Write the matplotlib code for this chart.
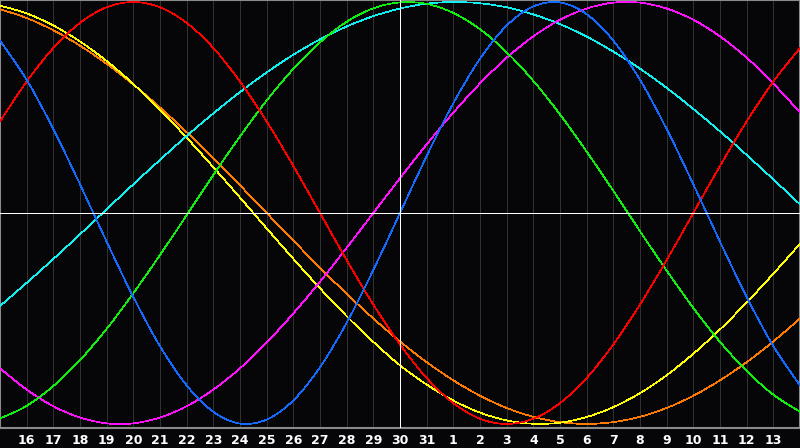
import matplotlib
matplotlib.use("Agg")
import matplotlib.pyplot as plt
from matplotlib.path import Path
from matplotlib.patches import PathPatch

# Day labels along the x axis (day index 0 = the 15th)
days = [15, 16, 17, 18, 19, 20, 21, 22, 23, 24, 25, 26, 27, 28, 29, 30, 31,
        1, 2, 3, 4, 5, 6, 7, 8, 9, 10, 11, 12, 13, 14]

# Cycle values (percent), one per day
blue = [81.7, 63.1, 39.8, 13.6, -13.6, -39.8, -63.1, -81.7, -94.2, -99.8, -97.9, -88.8, -73.1, -52.0, -27.0, 0.0,
        27.0, 52.0, 73.1, 88.8, 97.9, 99.8, 94.2, 81.7, 63.1, 39.8, 13.6, -13.6, -39.8, -63.1, -81.7]
red = [43.4, 62.3, 78.2, 90.1, 97.5, 100.0, 97.5, 90.1, 78.2, 62.3, 43.4, 22.3, 0.0, -22.3, -43.4, -62.3,
       -78.2, -90.1, -97.5, -100.0, -97.5, -90.1, -78.2, -62.3, -43.4, -22.3, 0.0, 22.3, 43.4, 62.3, 78.2]
green = [-97.4, -91.4, -82.0, -69.7, -54.9, -38.0, -19.9, -1.0, 18.0, 36.3, 53.3, 68.3, 80.9, 90.6, 97.0, 99.8,
         99.1, 94.8, 87.1, 76.2, 62.6, 46.7, 29.1, 10.5, -8.6, -27.3, -45.0, -61.1, -74.9, -86.1, -94.2]
magenta = [-73.6, -83.7, -91.6, -96.9, -99.7, -99.7, -96.9, -91.6, -83.7, -73.6, -61.4, -47.6, -32.5, -16.5, 0.0, 16.5,
           32.5, 47.6, 61.4, 73.6, 83.7, 91.6, 96.9, 99.7, 99.7, 96.9, 91.6, 83.7, 73.6, 61.4, 47.6]
cyan = [-44.1, -33.1, -21.8, -10.1, 1.8, 13.6, 25.2, 36.5, 47.2, 57.3, 66.6, 75.0, 82.3, 88.4, 93.3, 96.9,
        99.2, 100.0, 99.4, 97.5, 94.1, 89.5, 83.6, 76.5, 68.4, 59.3, 49.3, 38.7, 27.5, 15.9, 4.1]
yellow = [98.3, 94.6, 88.9, 81.3, 72.0, 61.1, 48.9, 35.7, 21.7, 7.3, -7.3, -21.7, -35.7, -48.9, -61.1, -72.2,
          -81.3, -88.9, -94.6, -98.3, -99.9, -99.4, -96.7, -92.0, -85.4, -76.9, -66.7, -55.2, -42.4, -28.8, -14.6]
orange = [96.6, 92.4, 86.6, 79.3, 70.7, 60.9, 50.0, 38.3, 25.9, 13.1, 0.0, -13.1, -25.9, -38.3, -50.0, -60.9,
          -70.7, -79.3, -86.6, -92.4, -96.6, -99.1, -100.0, -99.1, -96.6, -92.4, -86.6, -79.3, -70.7, -60.9, -50.0]

series = [
    (orange, "#ff7a00"),
    (yellow, "#ffff00"),
    (cyan, "#10f0f0"),
    (magenta, "#ff10ff"),
    (green, "#10f010"),
    (red, "#ff0000"),
    (blue, "#1469ff"),
]

BG = "#060608"
fig = plt.figure(figsize=(8, 4.48), dpi=100, facecolor=BG)
ax = fig.add_axes([0, 20 / 448, 1, 428 / 448])
ax.set_facecolor(BG)

x = list(range(len(days)))
ax.set_xlim(0, len(days) - 1)
ax.set_ylim(-101.9, 100.95)

# vertical day grid
for xi in x:
    if xi == 15:
        continue
    ax.axvline(xi, color="#313131", lw=0.6, antialiased=False, zorder=1)


def smooth_path(xs, ys):
    """Smooth (Catmull-Rom) line through the daily points."""
    n = len(xs)
    verts = [(xs[0], ys[0])]
    codes = [Path.MOVETO]
    for k in range(n - 1):
        k0 = max(k - 1, 0)
        k3 = min(k + 2, n - 1)
        c1 = (xs[k] + (xs[k + 1] - xs[k0]) / 6, ys[k] + (ys[k + 1] - ys[k0]) / 6)
        c2 = (xs[k + 1] - (xs[k3] - xs[k]) / 6, ys[k + 1] - (ys[k3] - ys[k]) / 6)
        verts += [c1, c2, (xs[k + 1], ys[k + 1])]
        codes += [Path.CURVE4] * 3
    return Path(verts, codes)


for vals, col in series:
    patch = PathPatch(smooth_path(x, vals), fill=False, edgecolor=col, lw=0.5, zorder=3)
    patch.set_antialiased(False)
    ax.add_patch(patch)

# centre cross
ax.axhline(0, color="white", lw=0.6, antialiased=False, zorder=4)
ax.axvline(15, color="white", lw=0.6, antialiased=False, zorder=4)

for s in ax.spines.values():
    s.set_color("#8a8a8a")
    s.set_linewidth(1.5)

ax.set_yticks([])
ax.set_xticks(x[1:-1])
ax.set_xticklabels([str(d) for d in days[1:-1]], color="white", fontsize=9,
                   fontweight="bold", family="DejaVu Sans")
ax.tick_params(axis="x", length=0, pad=4.5)

fig.savefig("out.png", facecolor=BG)
